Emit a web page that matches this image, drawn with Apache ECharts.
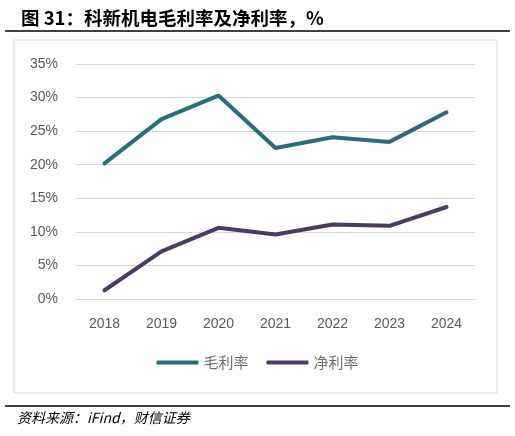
<!DOCTYPE html>
<html>
<head>
<meta charset="utf-8">
<script src="https://cdn.jsdelivr.net/npm/echarts@6/dist/echarts.min.js"></script>
<style>
html,body{margin:0;padding:0;background:#fff;}
#main{width:515px;height:436px;}
</style>
</head>
<body>
<div id="main"></div>
<script>
// 数据
var years = ['2018', '2019', '2020', '2021', '2022', '2023', '2024'];
var grossMargin = [20.2, 26.8, 30.3, 22.5, 24.1, 23.4, 27.8];
var netMargin = [1.3, 7.1, 10.6, 9.6, 11.1, 10.9, 13.7];
var seriesNames = ['毛利率', '净利率'];
var seriesColors = ['#276e7b', '#4b3a63'];

var mychart = echarts.init(document.getElementById('main'));
var option = {
	animation: false,
	title: {
		text: '图 31：科新机电毛利率及净利率，%',
		left: 16,
		top: 4,
		textStyle: {
			fontFamily: 'Noto Sans CJK SC',
			fontSize: 18.5,
			fontWeight: 'bold',
			color: '#000'
		}
	},
	graphic: [
		{type: 'line', shape: {x1: 5, y1: 31, x2: 510, y2: 31}, style: {stroke: '#000', lineWidth: 1.5}},
		{type: 'rect', shape: {x: 14, y: 40, width: 483, height: 353}, style: {fill: 'none', stroke: '#d9d9d9', lineWidth: 1}},
		{type: 'line', shape: {x1: 5, y1: 406, x2: 510, y2: 406}, style: {stroke: '#000', lineWidth: 1.5}},
		{type: 'text', left: 17, top: 411, style: {text: '资料来源：iFind，财信证券', font: 'italic 14px "Noto Sans CJK SC"', fill: '#000'}}
	],
	legend: {
		bottom: 61,
		left: 'center',
		itemWidth: 42,
		itemHeight: 4,
		itemGap: 18,
		icon: 'roundRect',
		textStyle: {fontFamily: 'Noto Sans CJK SC', fontSize: 15, color: '#6f6f6f'},
		data: seriesNames
	},
	grid: {left: 76, right: 40, top: 64, bottom: 137},
	xAxis: {
		type: 'category',
		data: years,
		axisLine: {lineStyle: {color: '#d9d9d9'}},
		axisTick: {show: false},
		axisLabel: {color: '#595959', fontSize: 14, fontFamily: 'Liberation Sans', margin: 18}
	},
	yAxis: {
		type: 'value',
		min: 0,
		max: 35,
		interval: 5,
		axisLine: {show: false},
		axisTick: {show: false},
		splitLine: {lineStyle: {color: '#d9d9d9', width: 1}},
		axisLabel: {color: '#595959', fontSize: 14, fontFamily: 'Liberation Sans', margin: 18, formatter: '{value}%'}
	},
	series: [
		{
			name: seriesNames[0],
			type: 'line',
			data: grossMargin,
			symbol: 'none',
			lineStyle: {width: 4, color: seriesColors[0], cap: 'round'},
			itemStyle: {color: seriesColors[0]}
		},
		{
			name: seriesNames[1],
			type: 'line',
			data: netMargin,
			symbol: 'none',
			lineStyle: {width: 4, color: seriesColors[1], cap: 'round'},
			itemStyle: {color: seriesColors[1]}
		}
	]
};
mychart.setOption(option);
</script>
</body>
</html>
